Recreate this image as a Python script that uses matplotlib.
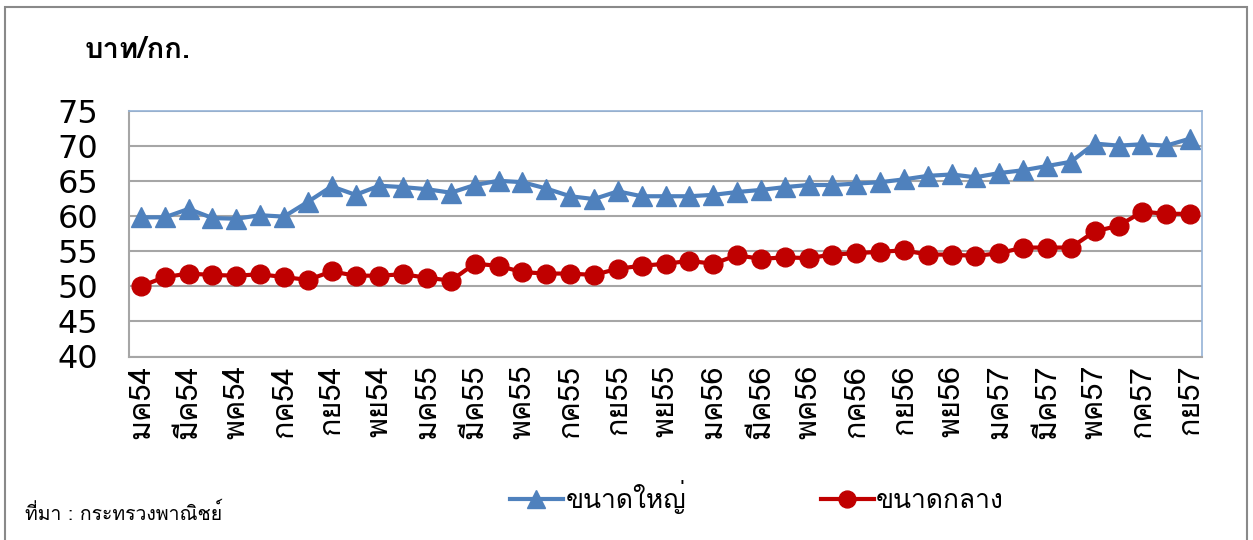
import matplotlib
matplotlib.use("Agg")
import matplotlib.pyplot as plt
from matplotlib import font_manager
from matplotlib.patches import Rectangle
from fontTools.ttLib import TTFont


def find_thai_font():
    # look for any installed font that has Thai glyphs
    for f in font_manager.fontManager.ttflist:
        try:
            cmap = TTFont(f.fname, fontNumber=0, lazy=True).getBestCmap()
        except Exception:
            continue
        if cmap and 0x0E01 in cmap:
            return f.name
    return None


thai = find_thai_font()
families = ([thai] if thai else []) + ["DejaVu Sans"]
plt.rcParams["font.family"] = families

months = ["มค", "กพ", "มีค", "เมย", "พค", "มิย", "กค", "สค", "กย", "ตค", "พย", "ธค"]
years = ["54", "55", "56", "57"]
labels = [m + y for y in years for m in months][:45]

large = [59.8, 59.8, 61.0, 59.7, 59.6, 60.1, 59.9, 62.0, 64.2, 63.0, 64.3, 64.1,
         63.8, 63.3, 64.4, 65.0, 64.8, 63.9, 62.8, 62.4, 63.5, 62.8, 62.8, 62.8,
         63.0, 63.4, 63.7, 64.1, 64.4, 64.4, 64.6, 64.8, 65.2, 65.7, 65.9, 65.5,
         66.1, 66.5, 67.1, 67.7, 70.3, 70.0, 70.2, 70.0, 71.0]
medium = [50.0, 51.3, 51.8, 51.6, 51.5, 51.7, 51.3, 50.9, 52.1, 51.5, 51.5, 51.7,
          51.2, 50.8, 53.2, 52.9, 52.0, 51.8, 51.8, 51.6, 52.5, 52.9, 53.2, 53.6,
          53.2, 54.4, 53.9, 54.1, 54.0, 54.5, 54.7, 54.9, 55.1, 54.5, 54.5, 54.3,
          54.7, 55.5, 55.5, 55.5, 57.8, 58.6, 60.6, 60.3, 60.3]

W, H = 1253, 540
fig = plt.figure(figsize=(W / 100, H / 100), dpi=100)
fig.patches.append(Rectangle((5 / W, -0.05), (W - 11) / W, 1.05 - 7 / H,
                             transform=fig.transFigure, fill=False,
                             edgecolor="#898989", linewidth=1.5))

ax = fig.add_axes([129 / W, 1 - 356.5 / H, 1073 / W, 246 / H])
x = list(range(len(labels)))
ax.plot(x, large, color="#4F81BD", linewidth=3, marker="^", markersize=15,
        label="ขนาดใหญ่")
ax.plot(x, medium, color="#C00000", linewidth=3, marker="o", markersize=13.5,
        label="ขนาดกลาง")

ax.set_xlim(-0.5, len(labels) - 0.5)
ax.set_ylim(40, 75)
ax.set_yticks(range(40, 80, 5))
ax.set_yticklabels([str(v) for v in range(40, 80, 5)], family="DejaVu Sans")
ax.grid(axis="y", color="#A6A6A6", linewidth=1.5)
ax.set_axisbelow(True)
ax.set_xticks(x[::2])
ax.set_xticklabels(labels[::2], rotation=90, fontsize=22)
ax.tick_params(axis="y", length=0, pad=22, labelsize=23)
ax.tick_params(axis="x", length=0, pad=6)
for s in ["left", "bottom"]:
    ax.spines[s].set_color("#A6A6A6")
    ax.spines[s].set_linewidth(1.5)
for s in ["top", "right"]:
    ax.spines[s].set_color("#95B3D7")
    ax.spines[s].set_linewidth(1.2)

fig.text(85 / W, 1 - 50 / H, "บาท/กก.", fontsize=21, fontweight="bold", va="center")
fig.text(25 / W, 1 - 513 / H, "ที่มา : กระทรวงพาณิชย์", fontsize=14, va="center")

fig.legend(loc="center", bbox_to_anchor=(757 / W, 1 - 497 / H), ncol=2,
           frameon=False, fontsize=19, handlelength=2.0, handletextpad=0.1,
           columnspacing=5.1, markerscale=0.9)

fig.savefig("out.png", dpi=100)
